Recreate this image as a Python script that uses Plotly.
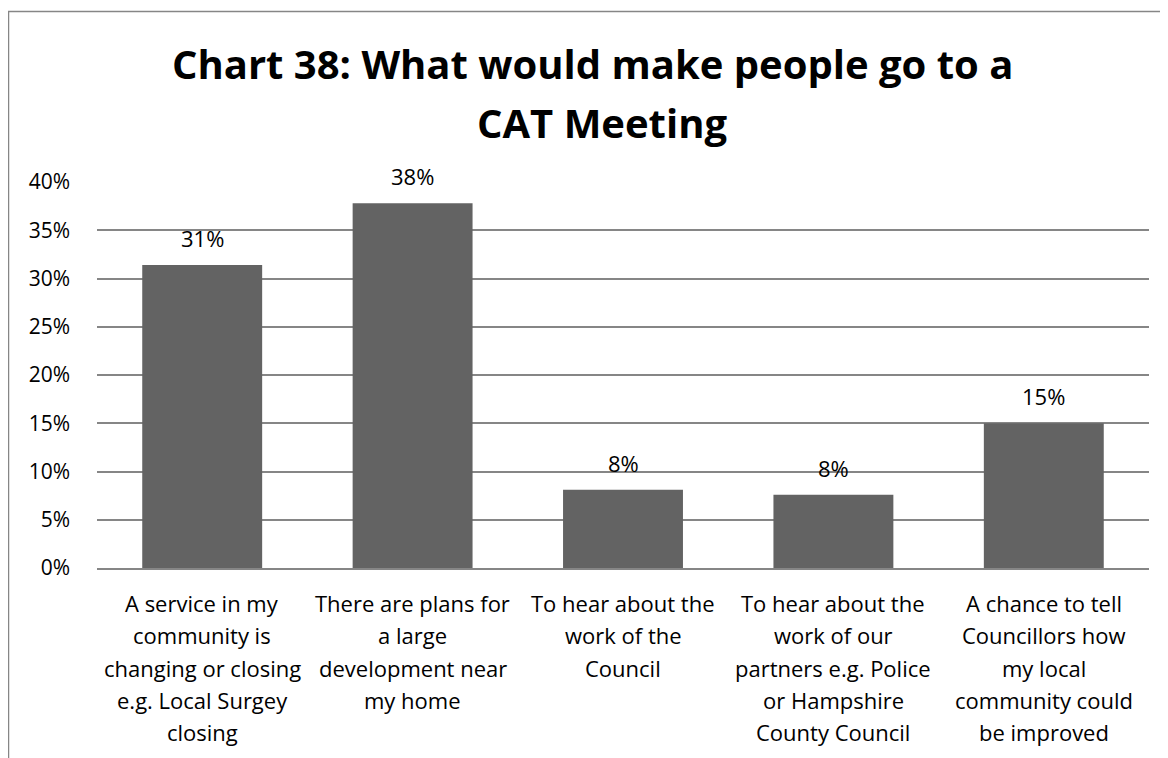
import plotly.graph_objects as go

# ---- data ----
categories = [
    "A service in my\ncommunity is\nchanging or closing\ne.g. Local Surgey\nclosing",
    "There are plans for\na large\ndevelopment near\nmy home",
    "To hear about the\nwork of the\nCouncil",
    "To hear about the\nwork of our\npartners e.g. Police\nor Hampshire\nCounty Council",
    "A chance to tell\nCouncillors how\nmy local\ncommunity could\nbe improved",
]
values = [0.314, 0.378, 0.081, 0.076, 0.150]
y_ticks = [0, 0.05, 0.10, 0.15, 0.20, 0.25, 0.30, 0.35, 0.40]
title_lines = ["Chart 38: What would make people go to a", "CAT Meeting"]

FONT = "Open Sans"
GRAY = "#868686"
BAR = "#636363"

x_keys = [c.replace("\n", " ") for c in categories]
labels = [f"{round(v * 100)}%" for v in values]

fig = go.Figure()
fig.add_trace(go.Bar(
    x=x_keys, y=values, marker=dict(color=BAR, line=dict(width=0)),
    hoverinfo="skip", showlegend=False,
))

# page offset of the figure (default body margin) is 8px
OFF = 8
W, H = 1160, 750
L, R, T, B = 89, 19, 174, 190
pw, ph = W - L - R, H - T - B

def py(px):  # page pixel -> paper y
    return (H - B - (px - OFF)) / ph

def pxx(px):  # page pixel -> paper x
    return ((px - OFF) - L) / pw

annotations = []
# data labels
for k, v, t in zip(x_keys, values, labels):
    annotations.append(dict(
        x=k, y=v, xref="x", yref="y", text=t, showarrow=False,
        yanchor="middle", yshift=27,
        font=dict(family=FONT, size=22, color="#000000"),
    ))
# category labels, line by line
for k, c in zip(x_keys, categories):
    for i, line in enumerate(c.split("\n")):
        annotations.append(dict(
            x=k, y=0, xref="x", yref="y", text=line, showarrow=False,
            yanchor="middle", yshift=-(35 + 32.3 * i),
            font=dict(family=FONT, size=22, color="#000000"),
        ))
# title lines
annotations.append(dict(
    x=pxx(592), y=py(63), xref="paper", yref="paper", text=f"<b>{title_lines[0]}</b>",
    showarrow=False, xanchor="center", yanchor="middle",
    font=dict(family=FONT, size=40, color="#000000"),
))
annotations.append(dict(
    x=pxx(602), y=py(123), xref="paper", yref="paper", text=f"<b>{title_lines[1]}</b>",
    showarrow=False, xanchor="center", yanchor="middle",
    font=dict(family=FONT, size=40, color="#000000"),
))

fig.update_layout(
    width=W, height=H,
    margin=dict(l=L, r=R, t=T, b=B, pad=0),
    paper_bgcolor="white", plot_bgcolor="white",
    bargap=0.43,
    annotations=annotations,
    shapes=[dict(
        type="rect", xref="paper", yref="paper",
        x0=pxx(8.5), x1=pxx(W + 40), y0=py(H + 40), y1=py(11.5),
        line=dict(color=GRAY, width=1.5), fillcolor="rgba(0,0,0,0)", layer="below",
    )],
    font=dict(family=FONT, size=21, color="#000000"),
)
fig.update_xaxes(
    showticklabels=False, showgrid=False, showline=True, linecolor=GRAY, linewidth=1.5,
    ticks="", fixedrange=True,
)
fig.update_yaxes(
    range=[0, 0.40], tickvals=y_ticks, tickformat=".0%",
    showgrid=True, gridcolor=GRAY, gridwidth=1.5, zeroline=False, showline=False,
    ticks="", ticklabelstandoff=26,
    tickfont=dict(family=FONT, size=21, color="#000000"),
)

fig.write_html("out.html")
